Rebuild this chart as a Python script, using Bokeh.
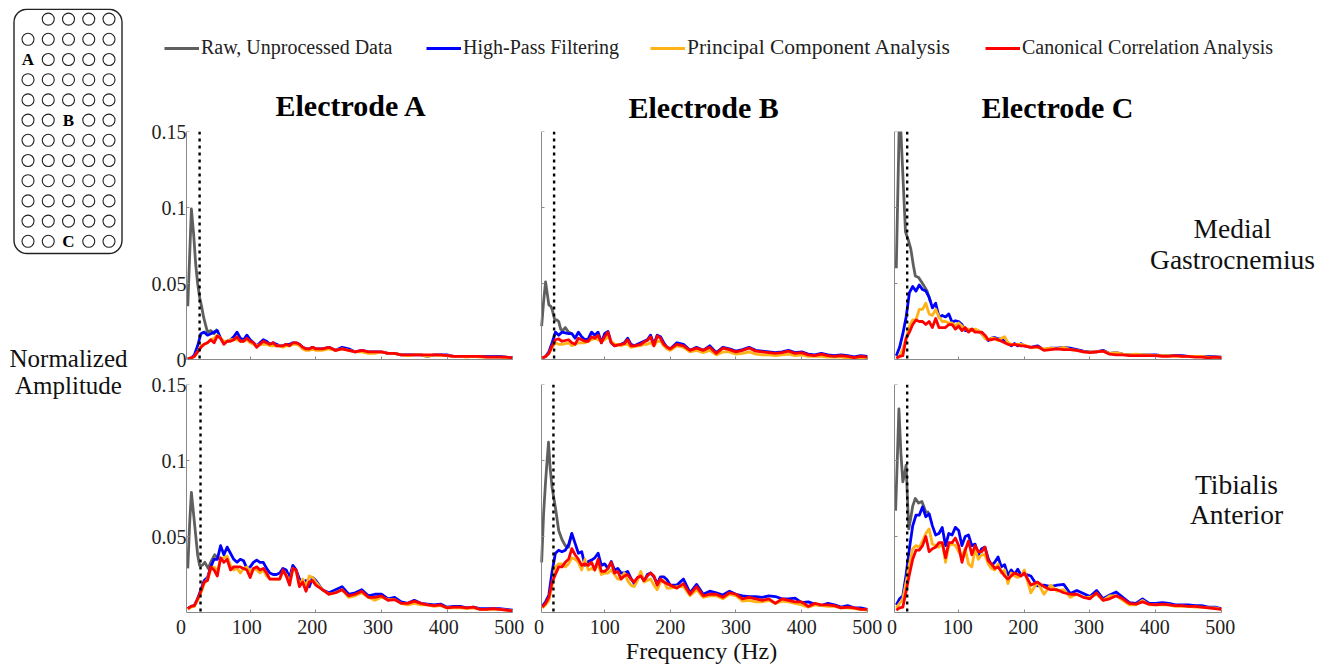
from bokeh.plotting import figure
from bokeh.layouts import row, column
from bokeh.models import (Range1d, LinearAxis, FixedTicker, Span, Label, Legend, LegendItem, CustomLabelingPolicy, Title)
from bokeh.embed import file_html
from bokeh.resources import INLINE
import numpy as np

# frequency grid shared by the filtered series (Hz)
FREQ = list(range(5, 201, 5)) + list(range(210, 501, 10))

# all amplitudes are in thousandths of normalized amplitude
# ---- Medial Gastrocnemius, Electrode A
A1_RAW_F = [5, 8, 10.5, 14, 17, 20, 23, 26, 29, 32, 35, 40, 45, 50]
A1_RAW = [35, 70, 99, 82, 63, 50, 41, 35, 28, 23, 18, 19, 17, 20]
A1_BLUE = [0.5,1,3,9,17,18,16,17,18,19, 14,11,12,13,15,18,14,13,16,13, 11,9,11,13,12,10,11,10,9,9, 10,10,11,11,10,8,7,7,8,7,
           7,8,6,8,7,5,6,5,5,5, 4,4,3,3,3,3,2,3,3,3, 2,2,2,2,2,2,2,2,1.5,1]
A1_ORANGE = [0.5,1,2,5,9,10,11,13,14,16, 14,12,12,13,13,13,12,12,13,11, 10,9,10,10,10,9,9,9,9,8, 9,9,10,10,9,7,6,6,7,6,
             6,7,6,7,6,5,5,4,4,5, 4,4,3,2.5,3,3,2,3,2.5,2.5, 2,2,1.5,2,1.5,1.5,1.5,1.5,1,0.7]
A1_RED = [0.5,1,2,5,8,10,11,13,11,15.5, 14,10,12,12,13,15,12,12,14,12, 11,8,10,12,11,10,11,9,9,9, 10,9,11,11,10,8,7,7,8,7,
          7,8,6,7,6,5,6,5,5,5, 4,4,3,3,3,3,3,3,3,2.5, 2,2,2,2,2,1.5,1.5,1.5,1.5,1]
# ---- Medial Gastrocnemius, Electrode B
B1_RAW_F = [4, 7, 10, 13, 15, 18, 20, 24, 27, 30, 33, 36, 40, 45, 50]
B1_RAW = [22, 38, 51, 42, 36, 35, 33, 26, 26, 25, 20, 19, 21, 18, 17]
B1_BLUE = [1,2,5,11,18,16,18,17.5,17,17, 14,18,15,13,13.5,18,16,18,11,17, 18.5,11,9,10,10,11,14,10,9,10, 11,12,13,16,10,16,15,11,8,7,
           11,10,6,8,6,9,4.5,8,7,5.5, 6.5,8,6,5.5,5,4.5,5,6,4.5,5, 3.5,3,4,3,2.5,3,2.5,1.7,2.5,2]
B1_ORANGE = [1,2,4,8,11,10,10,10.5,11,9, 10,11,11,11,12,13,14,13,12,13, 15,12,10,10,9,10,10,8,8.5,9, 9,10,10,11,9,12,12,9,7,6,
             9,8,5,6,4.5,6,3,5,5,3.5, 4,5,3.5,3,3,2.5,3,3.5,2.5,3, 2,2,2,1.5,1.5,1.5,1,0.8,1,1]
B1_RED = [1,2,4,9,13,13.5,12,12.5,13,11, 10,14,13,12,12,15,14,16,11,15, 18,11,9,9.5,10,10.5,13,9,9,9.5, 10,11.5,12.5,15,9,15.5,14,10,8,7,
          10,9,6,7.5,6,8,4,7.5,6.5,5, 6,7.5,5.5,5,4.5,4,4.5,5.5,4,4.5, 3,2.5,3.5,2.5,2,2.5,2,1.2,2,1.5]
# ---- Medial Gastrocnemius, Electrode C
C1_RAW_F = [5, 9.5, 12, 19, 23, 27, 31, 34, 39, 45, 52, 57]
C1_RAW = [60, 155, 150, 84, 79, 73, 62, 55, 54, 50, 45, 38]
C1_BLUE = [2.5,8,17,28,44,48,45,49,46,45, 41,34,37,28,29,28,30,24.5,25.5,25, 23,19,19,20,19,18.5,17,14.5,12.5,14, 14.5,13.5,13.5,12,11,9,10.5,9,10.5,9,
           8,9,6.5,7.5,7.5,8,7.5,6.5,5.5,5, 5,6,4,4.5,3.5,3,3,3,3,3, 2.5,2.5,2.5,2.5,2,2,2,2,1.8,1.5]
C1_ORANGE = [1,2,7,14,22,26,26,33,33,37, 30,29,33,28,25,25,24,24,22,24, 22,20,20,19,20,19,17,14,13,14, 14,12.5,14,15,11,10,10,10,10,9.5,
             8,8,7,7.5,7,8,6.5,6,5,5, 5,5.5,4,4.5,3.5,3,3.5,3,3,2.5, 2.5,2.5,2,2,2,2,2,1.5,1.5,1.5]
C1_RED = [1,2,2.5,14,18,23,26,25,25,23, 25,21,27,21,21,21,23,23,20,22, 19,21,18,20,18,18,18,16,13,13, 13.5,13,12,11,10,9.5,10,9.5,9,9,
          8,8.5,6,6.5,7,6.5,6.5,6,5,4.5, 5,5.5,3.5,3,3,2.5,2.5,2.5,2.5,2.5, 2,2,2.5,2,2,1.5,1.5,1,1.5,1.3]
# ---- Tibialis Anterior, Electrode A
A2_RAW_F = [5, 8, 10.5, 14, 17, 20, 23, 27, 31, 36, 41, 46, 50]
A2_RAW = [29, 60, 79, 64, 51, 38, 31, 31, 33, 29, 34, 38, 36]
A2_BLUE = [2.5,4,4.5,9,15,21,23,30,35,35, 44,38,43,39,35,33,35,34,29,30, 33,34.5,33,33,29,26,25,25,26,29, 28,23,31,28,22,20,21,17,23,21,
           15,13,15,17,12,13,15,11,12,12, 9,10,7,6,8,6,5.5,5,5.5,3.5, 4,4,3,3.5,2.5,2.5,2.5,2.5,2,1.5]
A2_ORANGE = [2,3.5,4,8,13,19,22,28,30,27, 35,36,37,31,28,29,26,29,30,27, 29,28,26,28,24,22,22,22,22,27, 25,19,29,27,18,22,17,24,23,20,
             15,12,13,15,10,11,13,10,8,10, 8.5,8.5,6,5,6,5,5,4,4.5,3, 3,3,2.5,3,2,2,2,2,1.5,1]
A2_RED = [2.5,4,4.5,9,14,20,21,30,28,24, 36,33,35,28,30,30,30,29,28,23, 29,30,28,29,26,22,22,22,22,28, 24,18,29,28,17,20,14,20,21,18,
          15,12,13,15,11,12,14,10,10,11, 8,8.5,6,6,7.5,6,5,4.5,5,3, 3.5,3.5,3,3.5,2,2,2.5,2,1.5,1]
# ---- Tibialis Anterior, Electrode B
B2_RAW_F = [4, 7, 10, 12, 14.5, 17, 20, 25, 30, 35, 40, 45, 50]
B2_RAW = [33, 65, 86, 98, 112, 95, 82, 69, 54, 48, 44, 43, 52]
B2_BLUE = [4,7,11.5,27,39,41,40,41,44.5,52, 45.5,39,40,31,33.5,34.5,36,39,31,32, 29,33.5,28,29,26,26,27,22.5,19,22.5, 25,20.5,25,26,23.5,19,23.5,23.5,21.5,18,
           18,22,13,18.5,12,14,13,11.5,14,12, 11,10.5,10.5,10,11,10.5,9,9,9.5,6.5, 7,5.5,4.5,6,5,3.5,4.5,3,3,2]
B2_ORANGE = [3,5,8,18,30,32,32,30,32,36, 35,33,28,35,28,29,28,32,25,26, 26,28,25,22,22,26,21,18,17,21, 27,20,21,22,18,15,20,21,16,16,
             17,17,11,15,10,11,11,9,12,11, 7.5,8,7,7,8,6,7.5,7,6,5, 3.5,5,4.5,4,4,3,3,2.5,2,1.5]
B2_RED = [3.5,6,10,20,25,30,30,33,35,42, 38,35,31,32,31,33,28,35,27,27, 29,33,26,27,22,24,25,22,20,23, 24,21,24,26,24,18,22,20,19,18,
          16,19,12,17,11,12,12,10,13,12, 9,10,9,8,9,6,9,8,7,7, 4,6,5,5,4.5,3,3.5,3,2,2]
# ---- Tibialis Anterior, Electrode C
C2_RAW_F = [4, 6.5, 9, 12, 15, 18, 20, 22, 24, 27, 30, 34, 39, 44, 50, 55]
C2_RAW = [67, 100, 134, 105, 86, 92, 97, 75, 55, 62, 70, 75, 72, 73, 66, 66]
C2_BLUE = [5,9,11,25,42,57,64,64,69.5,63, 65,57,51,52,56,44,52,51,56,54, 44,50,51,44,45,38,42,43,35.5,31, 33,36.5,30,31.5,24.5,28,25,28.5,24.5,25.5,
           24,17.5,18,17,18,18.5,12.5,14.5,12.5,10.5, 14.5,9,11.5,13.5,10,6.5,6,9,6,6, 6.5,6,5,5,5,4.5,4.5,3.5,3.5,2.5]
C2_ORANGE = [3,6,9,20,32,42,44,43,47,52, 55,45,44,43,46,33,44,45,44,40, 37,42,32,30,42,35,38,38,32,29, 28,32,26,28,19,26,24,23,24,28,
             13,20,12,18,14,15,10,12,10,10, 12,8,11,11,8,5,5,8,5,5, 5,5,4,4,4,3.5,3.5,3,3,2]
C2_RED = [1.5,3,3.5,14,25,35,41,41,44,50, 40,42,43,46,46,36,46,46,49,44, 33,41,47,38,44,40,40,43,34,32, 29,30,27,24,22,24,26,25,24,26,
          18,20,17,15,15,13,12,12,10,9, 13,8,9,11,9,6,5.5,7,5.5,5, 5.5,5,4.5,4.5,4,4,3.5,3,2.5,2]

# cut-off markers (Hz)
CUTOFF_TOP = [23, 23, 21.6]
CUTOFF_BOTTOM = [24.4, 22, 21.6]

SERIES_NAMES = ["Raw, Unprocessed Data", "High-Pass Filtering",
                "Principal Component Analysis", "Canonical Correlation Analysis"]
TITLES = ["Electrode A", "Electrode B", "Electrode C"]
X_LABEL = "Frequency (Hz)"
X_TICKS = [0, 100, 200, 300, 400, 500]
Y_TICKS = [0, 0.05, 0.1, 0.15]

GREY, BLUE, ORANGE, RED = "#5f5f5f", "#0000ff", "#ffb316", "#ff0000"
FONT = "Liberation Serif"
K = 0.6566   # px per Hz
PY = 1520.0  # px per unit amplitude
AXIS_GREY = "#8a8a8a"
TEXT = "#222222"


def no_labels(axis):
    axis.major_label_policy = CustomLabelingPolicy(code="")
    axis.major_label_text_font_size = "1px"
    axis.major_label_standoff = 0


def panel(raw_f, raw, blue, orange, red, cut, x0, fig_left, frame_w, fig_w, L, R, T, H, B,
          line_at, lab_shift, show_y, show_y0, show_x, title=None, title_off=0, title_standoff=10, x_label=None):
    xl = fig_left + L
    start = (xl - x0) / K
    end = (xl + frame_w - x0) / K
    p = figure(width=fig_w, height=H, x_range=Range1d(start, end), y_range=Range1d(0, 0.15),
               output_backend="svg", toolbar_location=None,
               min_border_left=L, min_border_right=R, min_border_top=T, min_border_bottom=B,
               outline_line_color=None, background_fill_color="white", border_fill_color=None)
    p.grid.visible = False
    xa = p.xaxis[0]
    xa.ticker = FixedTicker(ticks=X_TICKS[1:])
    xa.bounds = (line_at, 500)
    no_labels(xa)
    xa.major_tick_in, xa.major_tick_out = 3, 0
    xa.minor_tick_line_color = None
    xa.axis_line_color = xa.major_tick_line_color = AXIS_GREY
    ya = p.yaxis[0]
    ya.fixed_location = line_at
    ticks = Y_TICKS if show_y0 else Y_TICKS[1:]
    ya.ticker = FixedTicker(ticks=ticks)
    no_labels(ya)
    ya.major_tick_in, ya.major_tick_out = 3, 0
    ya.minor_tick_line_color = None
    ya.axis_line_color = ya.major_tick_line_color = AXIS_GREY
    if show_y:
        ly = LinearAxis(ticker=FixedTicker(ticks=ticks))
        ly.major_label_overrides = {t: str(t) for t in ticks}
        ly.axis_line_color = None
        ly.major_tick_line_color = None
        ly.minor_tick_line_color = None
        ly.major_label_standoff = -15
        ly.major_label_text_font = FONT
        ly.major_label_text_color = TEXT
        ly.major_label_text_font_size = "20px"
        p.add_layout(ly, "left")
    if show_x:
        p.extra_x_ranges["lab"] = Range1d(start + lab_shift / K, end + lab_shift / K)
        la = LinearAxis(x_range_name="lab", ticker=FixedTicker(ticks=X_TICKS))
        la.axis_line_color = None
        la.major_tick_line_color = None
        la.minor_tick_line_color = None
        la.major_label_standoff = -3
        la.major_label_text_font = FONT
        la.major_label_text_color = TEXT
        la.major_label_text_font_size = "20px"
        if x_label:
            la.axis_label = x_label
            la.axis_label_standoff = 1
            la.axis_label_text_font = FONT
            la.axis_label_text_font_style = "normal"
            la.axis_label_text_font_size = "24px"
            la.axis_label_text_color = "#111111"
        p.add_layout(la, "below")
    if title:
        p.add_layout(Title(text=title, align="left", offset=title_off, text_font=FONT, text_font_size="30px",
                           text_font_style="bold", text_color="black", standoff=title_standoff), "above")
    scale = lambda a: np.array(a, dtype=float) / 1000.0
    for xs, ys, c in ((raw_f, raw, GREY), (FREQ, blue, BLUE), (FREQ, orange, ORANGE), (FREQ, red, RED)):
        p.line(xs, scale(ys), line_color=c, line_width=2.8, line_join="round")
    p.add_layout(Span(location=cut, dimension="height", line_color="black",
                      line_width=2.4, line_dash="3 4"))
    return p


def pxlabel(p, text, x0, frame_bottom, px, py, size):
    p.add_layout(Label(x=(px - x0) / K, y=(frame_bottom - py) / PY, text=text, text_align="center",
                       text_baseline="middle", text_font=FONT, text_font_size=size, text_color="#111111"))


X0 = [184.0, 538.5, 892.5]
# top row: page y 72-372, frame 131-359; bottom row: page y 372-668, frame 384-612
TOP = dict(T=59, H=300, B=13, show_x=False)
BOT = dict(T=12, H=296, B=56, show_x=True)
A = dict(fig_left=140, frame_w=337, fig_w=391, L=37, R=17, line_at=3.8, lab_shift=3.5, show_y=True)
Bc = dict(fig_left=531, frame_w=334, fig_w=354, L=3, R=17, line_at=3.8, lab_shift=0, show_y=False)
C = dict(fig_left=885, frame_w=433, fig_w=436, L=3, R=0, line_at=2.3, lab_shift=1, show_y=False)

a1 = panel(A1_RAW_F, A1_RAW, A1_BLUE, A1_ORANGE, A1_RED, CUTOFF_TOP[0], X0[0], show_y0=True, title=TITLES[0], title_off=98, title_standoff=20, **A, **TOP)
b1 = panel(B1_RAW_F, B1_RAW, B1_BLUE, B1_ORANGE, B1_RED, CUTOFF_TOP[1], X0[1], show_y0=True, title=TITLES[1], title_off=94, title_standoff=15, **Bc, **TOP)
c1 = panel(C1_RAW_F, C1_RAW, C1_BLUE, C1_ORANGE, C1_RED, CUTOFF_TOP[2], X0[2], show_y0=True, title=TITLES[2], title_off=93, title_standoff=15, **C, **TOP)
a2 = panel(A2_RAW_F, A2_RAW, A2_BLUE, A2_ORANGE, A2_RED, CUTOFF_BOTTOM[0], X0[0], show_y0=False, **A, **BOT)
b2 = panel(B2_RAW_F, B2_RAW, B2_BLUE, B2_ORANGE, B2_RED, CUTOFF_BOTTOM[1], X0[1], show_y0=False, x_label=X_LABEL, **Bc, **BOT)
c2 = panel(C2_RAW_F, C2_RAW, C2_BLUE, C2_ORANGE, C2_RED, CUTOFF_BOTTOM[2], X0[2], show_y0=False, **C, **BOT)

pxlabel(c1, "Medial", X0[2], 359, 1232, 228, "27.5px")
pxlabel(c1, "Gastrocnemius", X0[2], 359, 1232, 259, "27.5px")
pxlabel(c2, "Tibialis", X0[2], 612, 1236, 484, "27.5px")
pxlabel(c2, "Anterior", X0[2], 612, 1236, 514, "27.5px")

# header strip: one legend block per entry, so each sits where the reference has it
head = figure(width=1181, height=64, x_range=Range1d(140, 1321), y_range=Range1d(72, 8),
              output_backend="svg", toolbar_location=None, min_border=0,
              outline_line_color=None, border_fill_color=None, x_axis_type=None, y_axis_type=None)
head.grid.visible = False
for name, c, lx, size, ly in zip(SERIES_NAMES, (GREY, BLUE, ORANGE, RED), (24, 286, 510, 845),
                                 ("20px", "20px", "21.5px", "20px"), (13, 13, 12, 13)):
    r = head.line([0, 1], [0, 0], line_color=c, line_width=2.8)
    head.add_layout(Legend(items=[LegendItem(label=name, renderers=[r])], location=(lx, ly), glyph_width=35,
                           glyph_height=18, label_standoff=2, padding=0, margin=0, background_fill_alpha=0,
                           border_line_color=None, label_text_font=FONT, label_text_font_size=size,
                           label_text_color=TEXT))

# left strip: electrode layout schematic and the shared amplitude label
ROWS = 12
COLS = 5
MISSING = [(0, 0)]
LETTERS = {"A": (2, 0), "B": (5, 2), "C": (11, 2)}
left = figure(width=132, height=660, x_range=Range1d(8, 140), y_range=Range1d(668, 8),
              output_backend="svg", toolbar_location=None, min_border=0,
              outline_line_color=None, border_fill_color=None, x_axis_type=None, y_axis_type=None)
left.grid.visible = False
col_px = lambda c: 27.5 + 20.25 * c
row_px = lambda r: 18.6 + 20.2 * r
skip = set(MISSING) | set(LETTERS.values())
cs = [col_px(c) for r in range(ROWS) for c in range(COLS) if (r, c) not in skip]
rs = [row_px(r) for r in range(ROWS) for c in range(COLS) if (r, c) not in skip]
left.quad(left=13.5, right=121.5, top=8.8, bottom=253, fill_color=None, line_color="#222222",
          line_width=1.4, border_radius=13)
left.scatter(cs, rs, size=12, marker="circle", fill_color=None, line_color="#222222", line_width=1.1)
for t, (r, c) in LETTERS.items():
    left.add_layout(Label(x=col_px(c), y=row_px(r), text=t, text_align="center", text_baseline="middle",
                          text_font=FONT, text_font_style="bold", text_font_size="17px", text_color="black"))
for t, y in (("Normalized", 358), ("Amplitude", 385)):
    left.add_layout(Label(x=68, y=y, text=t, text_align="center", text_baseline="middle", text_font=FONT,
                          text_font_size="25px", text_color="#111111"))

page = row(left, column(head, row(a1, b1, c1, spacing=0), row(a2, b2, c2, spacing=0), spacing=0),
           spacing=0, margin=(8, 0, 0, 8))
open("out.html", "w").write(file_html(page, INLINE))
